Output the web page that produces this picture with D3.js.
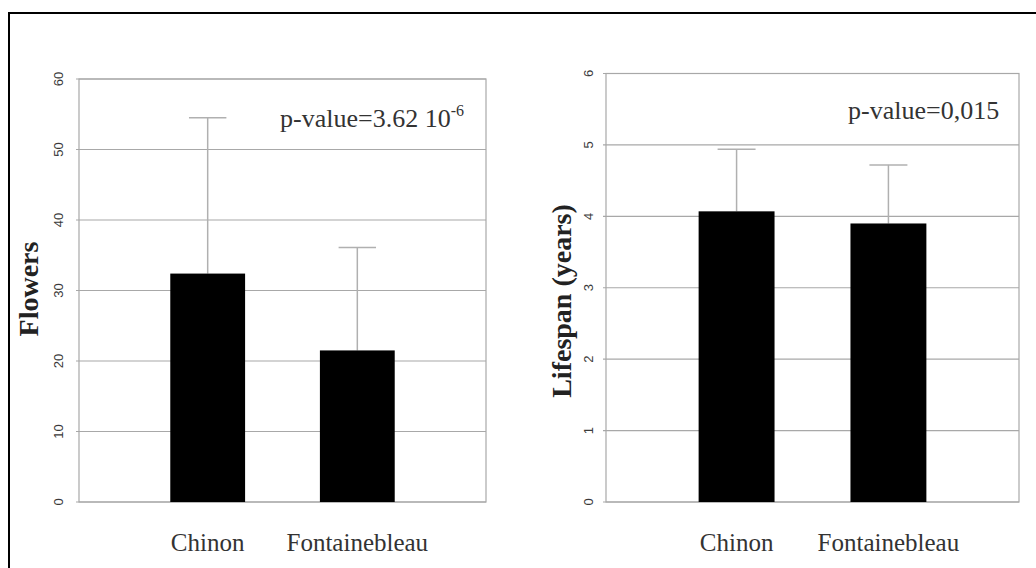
<!DOCTYPE html>
<html>
<head>
<meta charset="utf-8">
<script src="https://cdn.jsdelivr.net/npm/d3@7"></script>
<style>
  body { margin: 0; background: #fff; }
  svg { display: block; }
</style>
</head>
<body>
<div class="chart"></div>
<script>
// data
const sites = ['Chinon', 'Fontainebleau'];
const flowersMean = [32.4, 21.5];
const flowersUpper = [54.5, 36.1];
const lifespanMean = [4.07, 3.90];
const lifespanUpper = [4.94, 4.72];
const flowersTicks = [0, 10, 20, 30, 40, 50, 60];
const lifespanTicks = [0, 1, 2, 3, 4, 5, 6];

const svgWidth = 1036;
const svgHeight = 568;
const serif = "'Liberation Serif', 'Times New Roman', 'DejaVu Serif', serif";

const svg = d3
	.select('.chart')
	.append('svg')
	.attr('width', svgWidth)
	.attr('height', svgHeight);

svg.append('rect').attr('width', svgWidth).attr('height', svgHeight).attr('fill', '#fff');

// outer frame (only top and left show in the picture)
svg
	.append('rect')
	.attr('x', 9)
	.attr('y', 13)
	.attr('width', 1100)
	.attr('height', 700)
	.attr('fill', 'none')
	.attr('stroke', '#000')
	.attr('stroke-width', 2);

const panels = [
	{
		left: 79, right: 486, top: 79, bottom: 502,
		max: 60, ticks: flowersTicks, mean: flowersMean, upper: flowersUpper,
		title: 'Flowers', titleX: 28, titleY: 289, tickX: 58,
		pText: 'p-value=3.62 10', pSup: '-6', pX: 280, pY: 127
	},
	{
		left: 606, right: 1019, top: 73.5, bottom: 502,
		max: 6, ticks: lifespanTicks, mean: lifespanMean, upper: lifespanUpper,
		title: 'Lifespan (years)', titleX: 561, titleY: 301, tickX: 588,
		pText: 'p-value=0,015', pSup: null, pX: 848, pY: 119
	}
];

panels.forEach((p) => {
	const g = svg.append('g');

	const x = d3
		.scaleBand()
		.domain(sites)
		.range([ p.left, p.right ])
		.paddingInner(0.5)
		.paddingOuter(0.61);

	const y = d3.scaleLinear().domain([ 0, p.max ]).range([ p.bottom, p.top ]);

	// gridlines
	g
		.append('g')
		.selectAll('line')
		.data(p.ticks)
		.join('line')
		.attr('x1', p.left - 3)
		.attr('x2', p.right)
		.attr('y1', (d) => y(d))
		.attr('y2', (d) => y(d))
		.attr('stroke', '#a8a8a8')
		.attr('stroke-width', 1.2);

	// plot frame
	g
		.append('rect')
		.attr('x', p.left)
		.attr('y', p.top)
		.attr('width', p.right - p.left)
		.attr('height', p.bottom - p.top)
		.attr('fill', 'none')
		.attr('stroke', '#a8a8a8')
		.attr('stroke-width', 1.2);

	// y axis with rotated labels
	const yAxis = d3.axisLeft(y).tickValues(p.ticks).tickSize(0).tickFormat(d3.format('d'));
	const ax = g.append('g').attr('transform', `translate(${p.tickX},0)`).call(yAxis);
	ax.select('.domain').remove();
	ax.selectAll('.tick').attr('transform', null);
	ax
		.selectAll('text')
		.attr('dy', '0.35em')
		.attr('transform', 'rotate(-90)')
		.attr('text-anchor', 'middle')
		.attr('font-family', "'Liberation Sans', Arial, sans-serif")
		.attr('font-size', 13)
		.attr('fill', '#3a3a3a')
		.each(function(d) {
			d3.select(this).attr('x', -y(d)).attr('y', 0);
		});

	// error bars
	const errs = g.append('g').selectAll('g').data(sites).join('g');
	errs
		.append('line')
		.attr('x1', (d) => x(d) + x.bandwidth() / 2)
		.attr('x2', (d) => x(d) + x.bandwidth() / 2)
		.attr('y1', (d, i) => y(p.mean[i]))
		.attr('y2', (d, i) => y(p.upper[i]))
		.attr('stroke', '#b0b0b0')
		.attr('stroke-width', 1.5);
	errs
		.append('line')
		.attr('x1', (d) => x(d) + x.bandwidth() / 4)
		.attr('x2', (d) => x(d) + x.bandwidth() * 3 / 4)
		.attr('y1', (d, i) => y(p.upper[i]))
		.attr('y2', (d, i) => y(p.upper[i]))
		.attr('stroke', '#b0b0b0')
		.attr('stroke-width', 1.5);

	// bars
	g
		.append('g')
		.selectAll('rect')
		.data(sites)
		.join('rect')
		.attr('x', (d) => x(d))
		.attr('y', (d, i) => y(p.mean[i]))
		.attr('width', x.bandwidth())
		.attr('height', (d, i) => y(0) - y(p.mean[i]))
		.attr('fill', '#000');

	// category labels
	g
		.append('g')
		.selectAll('text')
		.data(sites)
		.join('text')
		.attr('x', (d) => x(d) + x.bandwidth() / 2)
		.attr('y', 551)
		.attr('text-anchor', 'middle')
		.attr('font-family', serif)
		.attr('font-size', 25)
		.attr('fill', '#333')
		.text((d) => d);

	// axis title
	g
		.append('text')
		.attr('transform', `translate(${p.titleX},${p.titleY}) rotate(-90)`)
		.attr('text-anchor', 'middle')
		.attr('dy', '0.35em')
		.attr('font-family', serif)
		.attr('font-weight', 'bold')
		.attr('font-size', 28)
		.attr('fill', '#222')
		.text(p.title);

	// p-value note
	const pt = g
		.append('text')
		.attr('x', p.pX)
		.attr('y', p.pY)
		.attr('font-family', serif)
		.attr('font-size', 26)
		.attr('fill', '#333')
		.text(p.pText);
	if (p.pSup) {
		pt.append('tspan').attr('dy', -11).attr('font-size', 16).text(p.pSup);
	}
});
</script>
</body>
</html>
